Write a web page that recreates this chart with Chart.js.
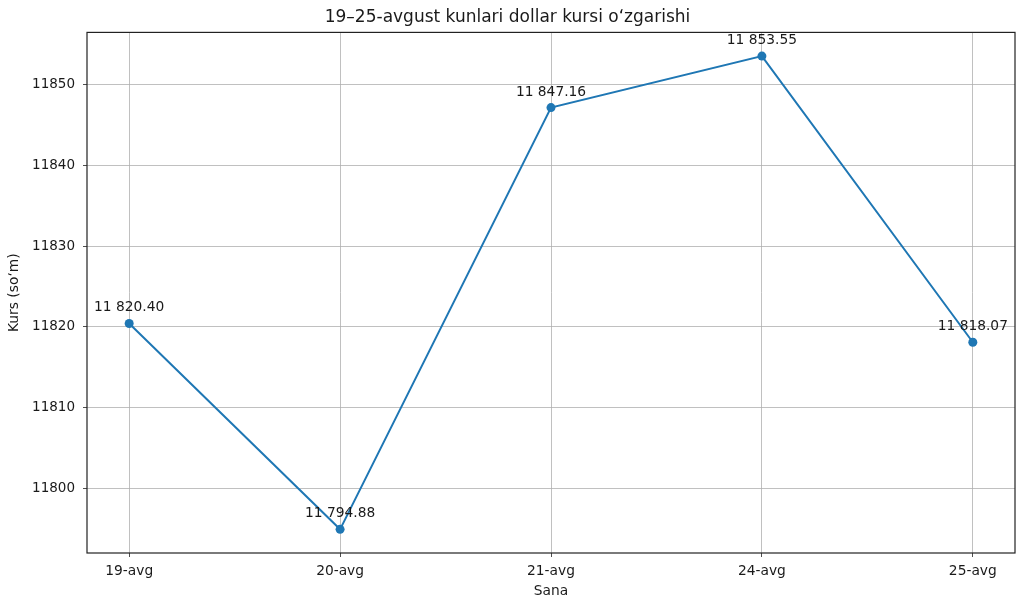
<!DOCTYPE html>
<html>
<head>
<meta charset="utf-8">
<script src="https://cdn.jsdelivr.net/npm/chart.js@4"></script>
<style>
  html, body { margin: 0; padding: 0; background: #fff; }
  #wrap { width: 1024px; height: 609px; }
</style>
</head>
<body>
<div id="wrap"><canvas id="rateChart"></canvas></div>
<script>
const days = ['19-avg', '20-avg', '21-avg', '24-avg', '25-avg'];
const rates = [11820.40, 11794.88, 11847.16, 11853.55, 11818.07];
const yTicks = [11800, 11810, 11820, 11830, 11840, 11850];

const FONT = "'DejaVu Sans', sans-serif";
const TXT = '#1a1a1a';

function fmtRate(v) {
  const parts = v.toFixed(2).split('.');
  return parts[0].replace(/\B(?=(\d{3})+(?!\d))/g, ' ') + '.' + parts[1];
}

// matplotlib-like 5% margins
const lo = Math.min(...rates), hi = Math.max(...rates);
const pad = (hi - lo) * 0.05;

const framePlugin = {
  id: 'frame',
  afterDraw(chart) {
    const { ctx, chartArea: a } = chart;
    ctx.save();
    ctx.strokeStyle = '#222';
    ctx.lineWidth = 1.2;
    ctx.strokeRect(a.left, a.top, a.right - a.left, a.bottom - a.top);
    ctx.restore();
  }
};

const valueLabels = {
  id: 'valueLabels',
  afterDatasetsDraw(chart) {
    const { ctx } = chart;
    const meta = chart.getDatasetMeta(0);
    ctx.save();
    ctx.font = '13.8px ' + FONT;
    ctx.fillStyle = TXT;
    ctx.textAlign = 'center';
    ctx.textBaseline = 'alphabetic';
    meta.data.forEach((pt, i) => {
      ctx.fillText(fmtRate(rates[i]), pt.x, pt.y - 12);
    });
    ctx.restore();
  }
};

new Chart(document.getElementById('rateChart'), {
  type: 'line',
  data: {
    datasets: [{
      data: rates.map((v, i) => ({ x: i, y: v })),
      borderColor: '#1f77b4',
      backgroundColor: '#1f77b4',
      borderWidth: 2,
      pointRadius: 4.5,
      pointBorderWidth: 0,
      tension: 0,
      fill: false
    }]
  },
  options: {
    responsive: true,
    maintainAspectRatio: false,
    animation: false,
    layout: { padding: { left: 0, right: 9, top: 0, bottom: 0 } },
    plugins: {
      legend: { display: false },
      tooltip: { enabled: false },
      title: {
        display: true,
        text: '19–25-avgust kunlari dollar kursi o‘zgarishi',
        color: TXT,
        font: { family: FONT, size: 17, weight: 'normal' },
        padding: { top: 7, bottom: 5 }
      }
    },
    scales: {
      x: {
        type: 'linear',
        min: -0.2,
        max: 4.2,
        afterBuildTicks: s => { s.ticks = days.map((_, i) => ({ value: i })); },
        afterFit: s => { s.height = 56; },
        ticks: {
          callback: v => days[v],
          color: TXT,
          font: { family: FONT, size: 13.8 },
          padding: 6,
          maxRotation: 0
        },
        grid: { color: '#b0b0b0', lineWidth: 0.8, tickColor: '#222', tickLength: 4 },
        border: { display: false },
        title: {
          display: true,
          text: 'Sana',
          color: TXT,
          font: { family: FONT, size: 13.8 },
          padding: { top: 0, bottom: 9 }
        }
      },
      y: {
        min: lo - pad,
        max: hi + pad,
        afterBuildTicks: s => { s.ticks = yTicks.map(v => ({ value: v })); },
        afterFit: s => { s.width = 87; },
        ticks: {
          callback: v => String(v),
          color: TXT,
          font: { family: FONT, size: 13.5 },
          padding: 8
        },
        grid: { color: '#b0b0b0', lineWidth: 0.8, tickColor: '#222', tickLength: 4 },
        border: { display: false },
        title: {
          display: true,
          text: 'Kurs (so‘m)',
          color: TXT,
          font: { family: FONT, size: 13.8 },
          padding: { top: 6, bottom: 0 }
        }
      }
    }
  },
  plugins: [framePlugin, valueLabels]
});
</script>
</body>
</html>
